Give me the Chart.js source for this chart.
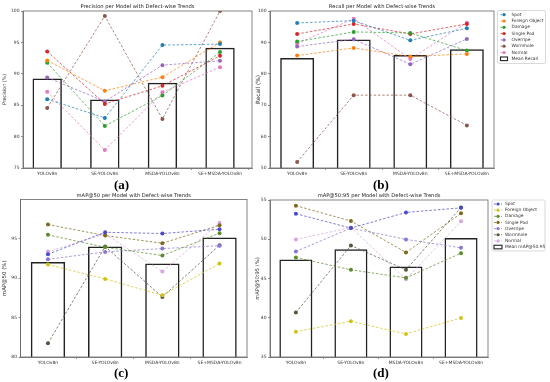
<!DOCTYPE html>
<html><head><meta charset="utf-8">
<script src="https://cdn.jsdelivr.net/npm/chart.js@4.4.1/dist/chart.umd.min.js"></script>
<style>
body{margin:0;width:550px;height:382px;background:#fff;position:relative;overflow:hidden;font-family:"DejaVu Sans";}
canvas{position:absolute;}
.lab{position:absolute;font-family:"Liberation Serif";font-weight:bold;font-size:13px;color:#000;}
</style></head><body>
<canvas id="ca"></canvas><canvas id="cb"></canvas><canvas id="cc"></canvas><canvas id="cd"></canvas>
<div class="lab" style="left:114px;top:177px">(a)</div>
<div class="lab" style="left:373px;top:177px">(b)</div>
<div class="lab" style="left:114px;top:365px">(c)</div>
<div class="lab" style="left:373px;top:365px">(d)</div>
<script>
const models = ["YOLOv8n", "SE-YOLOv8n", "MSDA-YOLOv8n", "SE+MSDA-YOLOv8n"];
const defects = ["Spot", "Foreign Object", "Damage", "Single Pod", "Overripe", "Wormhole", "Normal"];

// Precision (%) per defect, rows in defects order
const precision = [
  [85.96, 82.98, 94.57, 94.73],
  [92.13, 87.29, 89.47, 95.00],
  [91.76, 81.70, 86.54, 93.46],
  [93.56, 85.21, 88.09, 92.87],
  [89.41, 85.60, 91.38, 92.07],
  [84.57, 99.20, 82.82, 100.0],
  [87.13, 77.87, 87.07, 91.06]
];
const meanPrecision = [89.26, 85.9, 88.56, 94.15];

const recall = [
  [96.19, 96.93, 90.68, 94.49],
  [85.81, 88.24, 85.49, 86.33],
  [90.25, 93.33, 93.00, 87.40],
  [92.69, 95.87, 92.69, 95.87],
  [88.67, 91.00, 83.05, 91.10],
  [51.91, 73.20, 73.20, 63.56],
  [89.62, 97.56, 84.75, 96.29]
];
const meanRecall = [85.06, 90.89, 86.02, 87.82];

const map50 = [
  [93.02, 95.80, 95.64, 96.19],
  [91.71, 89.89, 87.82, 91.83],
  [95.47, 93.90, 92.85, 95.68],
  [96.78, 95.38, 94.41, 96.69],
  [92.38, 93.31, 93.73, 94.10],
  [81.73, 93.99, 87.61, 94.16],
  [93.35, 95.60, 90.82, 96.99]
];
const meanMap50 = [92.04, 93.99, 91.83, 95.13];

const map5095 = [
  [53.25, 51.42, 53.42, 54.00],
  [38.23, 39.55, 37.94, 39.98],
  [47.68, 46.11, 45.08, 48.23],
  [54.28, 52.32, 48.32, 53.30],
  [48.45, 51.42, 49.98, 48.91],
  [40.66, 49.21, 46.11, 54.05],
  [49.98, 51.50, 44.91, 52.28]
];
const meanMap5095 = [47.43, 48.74, 46.53, 50.15];

const colorsTop = ["#1f7fb4", "#ff7f0e", "#2ca02c", "#d62728", "#9467bd", "#8c564b", "#e377c2"];
const colorsBottom = ["#4a4ac8", "#d2c21a", "#5c8a2c", "#7d6a1c", "#8a78d0", "#55553f", "#d6a6dc"];

function rgba(hex, a) {
  const n = parseInt(hex.slice(1), 16);
  return `rgba(${(n >> 16) & 255},${(n >> 8) & 255},${n & 255},${a})`;
}

function makePanel(id, box, plot, cfg) {
  const cv = document.getElementById(id);
  cv.style.left = box.x + 'px'; cv.style.top = box.y + 'px';
  cv.width = box.w; cv.height = box.h;
  cv.style.width = box.w + 'px'; cv.style.height = box.h + 'px';
  const toPts = vals => vals.map((v, i) => ({ x: i, y: v }));
  const datasets = cfg.series.map((vals, i) => ({
    type: 'line', label: defects[i], data: toPts(vals),
    borderColor: rgba(cfg.colors[i], 0.8), backgroundColor: cfg.colors[i],
    pointBackgroundColor: cfg.colors[i], pointBorderWidth: 0, pointRadius: 2,
    borderWidth: 0.9, borderDash: [2.5, 1.8], tension: 0, order: i
  }));
  datasets.push({
    type: 'bar', label: cfg.barLabel, data: toPts(cfg.mean),
    backgroundColor: 'rgba(0,0,0,0)', borderColor: '#222', borderWidth: 1.5,
    borderSkipped: 'start', categoryPercentage: 1, barPercentage: cfg.barPct, order: 20
  });
  const deco = {
    id: 'deco',
    afterDraw(chart) {
      const ctx = chart.ctx, a = chart.chartArea;
      ctx.save();
      ctx.strokeStyle = '#666'; ctx.lineWidth = 0.8;
      ctx.strokeRect(a.left, a.top, a.right - a.left, a.bottom - a.top);
      ctx.fillStyle = '#222';
      ctx.font = '5.2px "DejaVu Sans"';
      ctx.textAlign = 'center'; ctx.textBaseline = 'alphabetic';
      ctx.fillText(cfg.title, (a.left + a.right) / 2, a.top - 3);
      if (cfg.legend) {
        const L = cfg.legend;
        const lx = L.x - box.x, ly = L.y - box.y;
        ctx.fillStyle = '#fff'; ctx.strokeStyle = '#d0d0d0'; ctx.lineWidth = 0.8;
        ctx.beginPath(); ctx.roundRect(lx, ly, L.w, L.h, 1.5); ctx.fill(); ctx.stroke();
        ctx.font = '4.4px "DejaVu Sans"'; ctx.textAlign = 'left'; ctx.textBaseline = 'middle';
        const labels = defects.concat([cfg.barLabel]);
        labels.forEach((t, i) => {
          const y = ly + L.first + i * L.step;
          const sx = lx + L.symX;
          if (i < defects.length) {
            ctx.strokeStyle = rgba(cfg.colors[i], 0.85); ctx.lineWidth = 0.9;
            ctx.setLineDash([2, 1.5]);
            ctx.beginPath(); ctx.moveTo(sx, y); ctx.lineTo(sx + L.symW, y); ctx.stroke();
            ctx.setLineDash([]);
            ctx.fillStyle = cfg.colors[i];
            ctx.beginPath(); ctx.arc(sx + L.symW / 2, y, 1.6, 0, Math.PI * 2); ctx.fill();
          } else {
            ctx.strokeStyle = '#222'; ctx.lineWidth = 1.1;
            ctx.strokeRect(sx, y - 1.8, L.symW, 3.6);
          }
          ctx.fillStyle = '#333';
          ctx.fillText(t, lx + L.textX, y);
        });
      }
      ctx.restore();
    }
  };
  return new Chart(cv, {
    type: 'bar',
    data: { datasets },
    options: {
      responsive: false, animation: false, devicePixelRatio: 1,
      layout: { padding: { left: 0, top: plot.t - box.y, right: box.x + box.w - plot.r, bottom: 0 } },
      plugins: { legend: { display: false }, title: { display: false }, tooltip: { enabled: false } },
      scales: {
        x: {
          type: 'linear', min: cfg.xmin, max: cfg.xmax, offset: false,
          grid: { display: true, drawOnChartArea: false, tickLength: 2, color: '#666', lineWidth: 0.7 },
          border: { color: '#666', width: 0.8 },
          ticks: { stepSize: 1, includeBounds: false, callback: v => models[v] ?? '',
            font: { size: 4.5, family: 'DejaVu Sans' }, color: '#333', padding: 1, maxRotation: 0, autoSkip: false },
          afterFit: s => { s.height = box.y + box.h - plot.b; }
        },
        y: {
          min: cfg.min, max: cfg.max,
          grid: { display: true, drawOnChartArea: false, tickLength: 2, color: '#666', lineWidth: 0.7 },
          border: { color: '#666', width: 0.8 },
          ticks: { stepSize: cfg.step, includeBounds: false, font: { size: 4.5, family: 'DejaVu Sans' }, color: '#333', padding: 1.5 },
          title: { display: true, text: cfg.yTitle, font: { size: cfg.yTitleSize, family: 'DejaVu Sans' }, color: '#333', padding: { top: cfg.yTitlePad, bottom: 0 } },
          afterFit: s => { s.width = plot.l - box.x; }
        }
      }
    },
    plugins: [deco]
  });
}

makePanel('ca', { x: 0, y: 0, w: 256, h: 182 }, { l: 23, t: 11, r: 252, b: 168 },
  { series: precision, mean: meanPrecision, colors: colorsTop, barLabel: 'Mean Precision', barPct: 0.51,
    xmin: -0.42, xmax: 3.555, yTitlePad: 2,
    min: 75, max: 100, step: 5, yTitle: 'Precision (%)', yTitleSize: 4.8, title: 'Precision per Model with Defect-wise Trends' });
makePanel('cb', { x: 252, y: 0, w: 298, h: 182 }, { l: 270, t: 11, r: 494, b: 168 },
  { series: recall, mean: meanRecall, colors: colorsTop, barLabel: 'Mean Recall', barPct: 0.6,
    xmin: -0.48, xmax: 3.48, yTitlePad: 3,
    min: 50, max: 100, step: 10, yTitle: 'Recall (%)', yTitleSize: 5.8, title: 'Recall per Model with Defect-wise Trends',
    legend: { x: 497.5, y: 10.5, w: 48, h: 53, first: 4.2, step: 6.3, symX: 3, symW: 7, textX: 14 } });
makePanel('cc', { x: 0, y: 188, w: 256, h: 186 }, { l: 20.5, t: 199.5, r: 247, b: 357 },
  { series: map50, mean: meanMap50, colors: colorsBottom, barLabel: 'Mean mAP@50', barPct: 0.6,
    xmin: -0.48, xmax: 3.48, yTitlePad: 1,
    min: 80, max: 99.95, step: 5, yTitle: 'mAP@50 (%)', yTitleSize: 5.4, title: 'mAP@50 per Model with Defect-wise Trends' });
makePanel('cd', { x: 252, y: 188, w: 298, h: 186 }, { l: 270, t: 200, r: 488, b: 357 },
  { series: map5095, mean: meanMap5095, colors: colorsBottom, barLabel: 'Mean mAP@50:95', barPct: 0.6,
    xmin: -0.47, xmax: 3.49, yTitlePad: 3,
    min: 35, max: 55, step: 5, yTitle: 'mAP@50:95 (%)', yTitleSize: 5.2, title: 'mAP@50:95 per Model with Defect-wise Trends',
    legend: { x: 492, y: 200, w: 53, h: 51, first: 4, step: 6.15, symX: 2, symW: 8, textX: 13 } });
</script>
</body></html>
